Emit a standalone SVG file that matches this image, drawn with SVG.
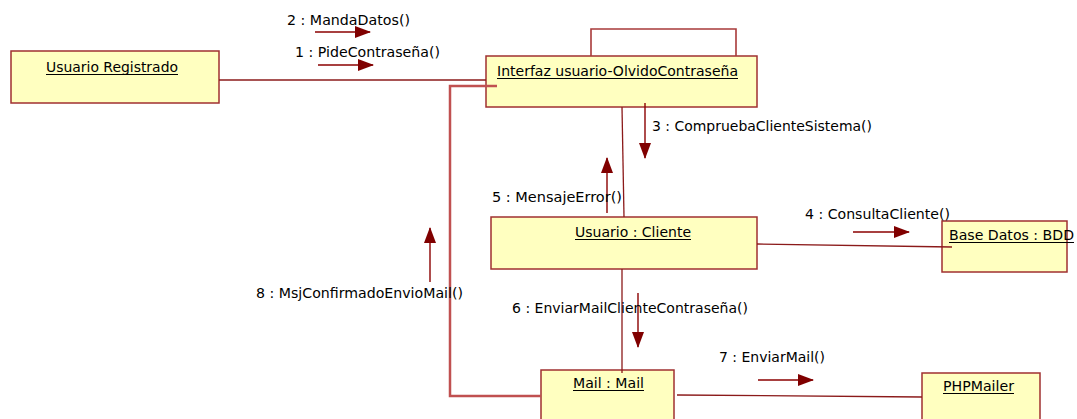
<svg xmlns="http://www.w3.org/2000/svg" width="1077" height="419" viewBox="0 0 1077 419">
<style>
.box{fill:#ffffc0;stroke:#a03030;stroke-width:1.5}
.t{font-family:"DejaVu Sans","Liberation Sans",sans-serif;font-size:13.5px;fill:#000}
.u{stroke:#000;stroke-width:1}
.c{fill:none;stroke:#8b1a1a;stroke-width:1.3}
.thick{fill:none;stroke:#c05050;stroke-width:2.5}
.loop{fill:none;stroke:#a83a3a;stroke-width:1.6}
.m{fill:none;stroke:#8b0000;stroke-width:1.4;marker-end:url(#ah)}
</style>
<defs>
<marker id="ah" markerWidth="16" markerHeight="12" refX="15" refY="6" orient="auto" markerUnits="userSpaceOnUse">
<path d="M0,0 L16,6 L0,12 Z" fill="#800000"/>
</marker>
</defs>
<rect width="1077" height="419" fill="#ffffff"/>
<g id="n-usuario-registrado">
<rect class="box" x="11" y="51" width="208" height="52"/>
<text class="t" x="46" y="72" textLength="132" lengthAdjust="spacingAndGlyphs">Usuario Registrado</text>
<line class="u" x1="46" y1="74.5" x2="178" y2="74.5"/>
</g>
<g id="n-interfaz">
<rect class="box" x="486" y="56" width="271" height="51"/>
<text class="t" x="497" y="76" textLength="241" lengthAdjust="spacingAndGlyphs">Interfaz usuario-OlvidoContraseña</text>
<line class="u" x1="497" y1="78.5" x2="738" y2="78.5"/>
</g>
<g id="n-cliente">
<rect class="box" x="491" y="217" width="266" height="52"/>
<text class="t" x="575" y="237" textLength="116" lengthAdjust="spacingAndGlyphs">Usuario : Cliente</text>
<line class="u" x1="575" y1="239.5" x2="691" y2="239.5"/>
</g>
<g id="n-bdd">
<rect class="box" x="942" y="221" width="125" height="51"/>
<text class="t" x="949" y="240" textLength="125" lengthAdjust="spacingAndGlyphs">Base Datos : BDD</text>
<line class="u" x1="949" y1="242.5" x2="1074" y2="242.5"/>
</g>
<g id="n-mail">
<rect class="box" x="541" y="370" width="133" height="60"/>
<text class="t" x="573" y="388" textLength="71" lengthAdjust="spacingAndGlyphs">Mail : Mail</text>
<line class="u" x1="573" y1="390.5" x2="644" y2="390.5"/>
</g>
<g id="n-phpmailer">
<rect class="box" x="922" y="373" width="118" height="60"/>
<text class="t" x="943" y="391" textLength="71" lengthAdjust="spacingAndGlyphs">PHPMailer</text>
<line class="u" x1="943" y1="393.5" x2="1014" y2="393.5"/>
</g>
<g id="connectors">
<line class="c" x1="219" y1="80" x2="486" y2="80"/>
<polyline class="loop" points="591,56 591,29 736,29 736,56"/>
<line class="c" x1="622" y1="107" x2="624" y2="217"/>
<line class="c" x1="757" y1="244" x2="952" y2="247"/>
<line class="c" x1="622" y1="269" x2="622" y2="373"/>
<line class="c" x1="677" y1="395" x2="922" y2="397"/>
<polyline class="thick" points="497,86 450,86 450,396 541,396"/>
</g>
<g id="messages">
<line class="m" x1="315" y1="32" x2="370" y2="32"/>
<text class="t" x="287" y="25" textLength="123" lengthAdjust="spacingAndGlyphs">2 : MandaDatos()</text>
<line class="m" x1="318" y1="65" x2="373" y2="65"/>
<text class="t" x="295" y="57" textLength="145" lengthAdjust="spacingAndGlyphs">1 : PideContraseña()</text>
<line class="m" x1="645" y1="103" x2="645" y2="158"/>
<text class="t" x="652" y="131" textLength="220" lengthAdjust="spacingAndGlyphs">3 : CompruebaClienteSistema()</text>
<line class="m" x1="607" y1="213" x2="607" y2="158"/>
<text class="t" x="492" y="202" textLength="130" lengthAdjust="spacingAndGlyphs">5 : MensajeError()</text>
<line class="m" x1="853" y1="232" x2="909" y2="232"/>
<text class="t" x="805" y="219" textLength="145" lengthAdjust="spacingAndGlyphs">4 : ConsultaCliente()</text>
<line class="m" x1="430" y1="282" x2="430" y2="228"/>
<text class="t" x="256" y="298" textLength="207" lengthAdjust="spacingAndGlyphs">8 : MsjConfirmadoEnvioMail()</text>
<line class="m" x1="638" y1="293" x2="638" y2="347"/>
<text class="t" x="512" y="313" textLength="236" lengthAdjust="spacingAndGlyphs">6 : EnviarMailClienteContraseña()</text>
<line class="m" x1="758" y1="380" x2="813" y2="380"/>
<text class="t" x="719" y="362" textLength="106" lengthAdjust="spacingAndGlyphs">7 : EnviarMail()</text>
</g>
</svg>
